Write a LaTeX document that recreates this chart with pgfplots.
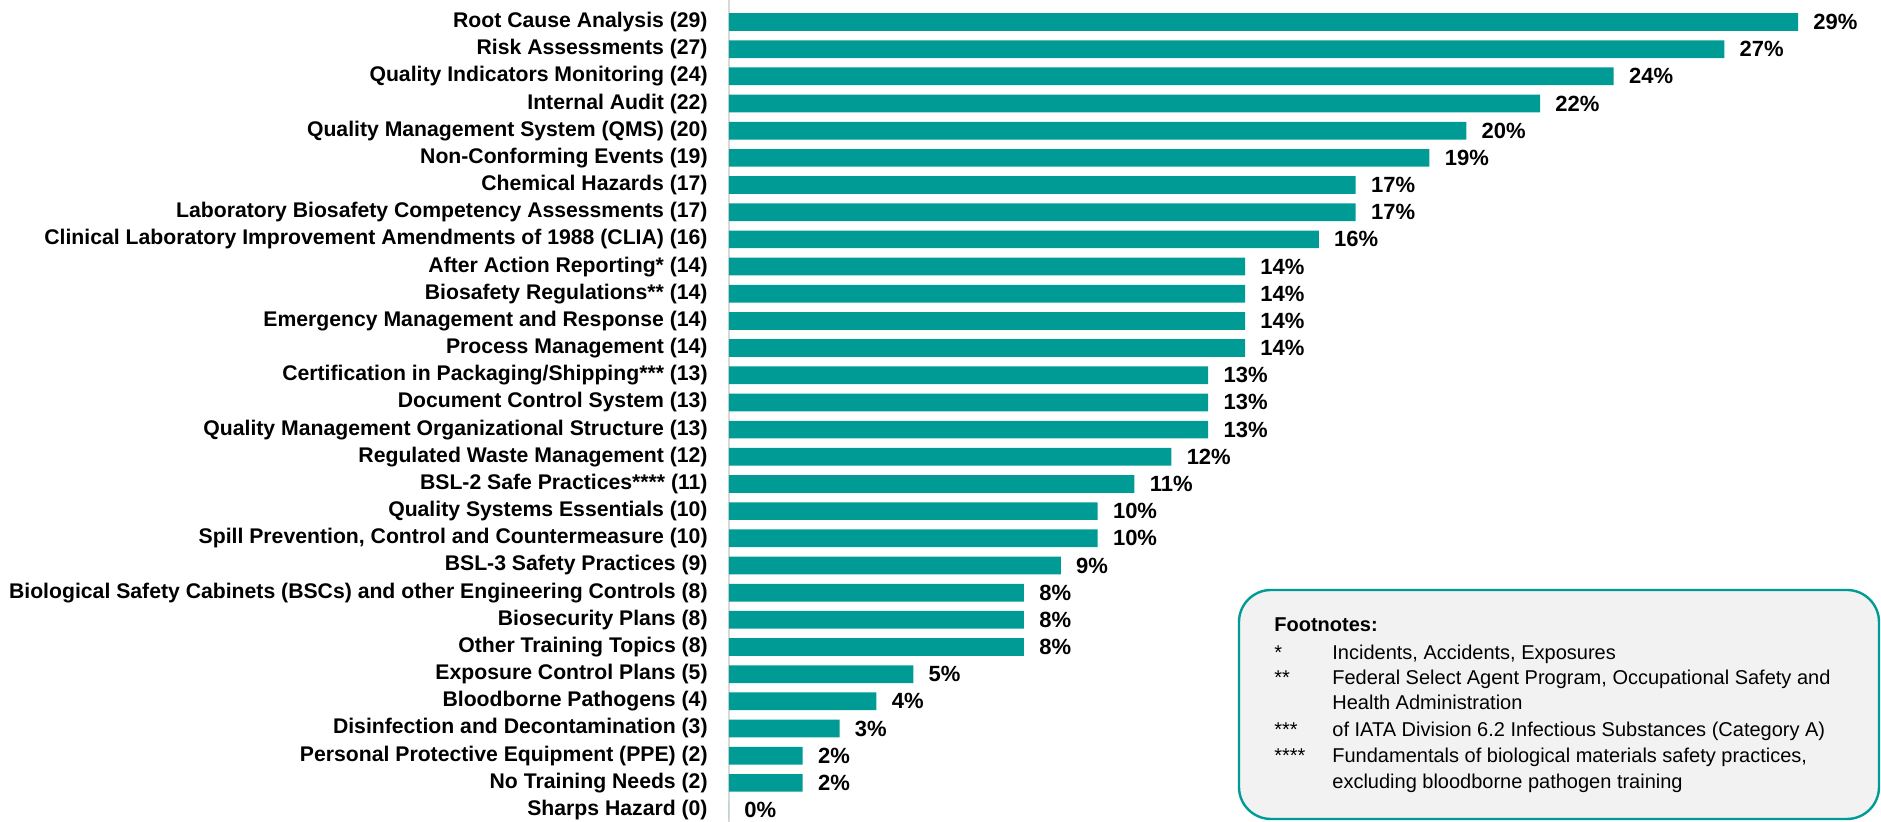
\documentclass[border=0pt]{standalone}
\usepackage{pgfplots}
\pgfplotsset{compat=1.18}
\usepackage{pgfplotstable}
\usepackage{fontspec}
\setmainfont{Liberation Sans}
\definecolor{teal1}{RGB}{0,155,149}
\definecolor{axgray}{RGB}{217,217,217}
\definecolor{boxfill}{RGB}{242,242,242}
\pgfplotstableread{
idx val
0 29
1 27
2 24
3 22
4 20
5 19
6 17
7 17
8 16
9 14
10 14
11 14
12 14
13 13
14 13
15 13
16 12
17 11
18 10
19 10
20 9
21 8
22 8
23 8
24 5
25 4
26 3
27 2
28 2
29 0
}\datatable
\begin{document}
\begin{tikzpicture}
\begin{axis}[
  scale only axis,
  width=576pt, height=411pt,
  xmin=0, xmax=31.25,
  ymin=-0.81, ymax=29.44,
  y dir=reverse,
  axis x line=none,
  axis y line*=left,
  y axis line style={draw=axgray, line width=1pt, -},
  xbar, bar width=8.85pt,
  ytick={0,...,29},
  major tick length=0pt,
  /pgf/number format/assume math mode=true,
  yticklabels={Root Cause Analysis (29),Risk Assessments (27),Quality Indicators Monitoring (24),Internal Audit (22),Quality Management System (QMS) (20),Non-Conforming Events (19),Chemical Hazards (17),Laboratory Biosafety Competency Assessments (17),Clinical Laboratory Improvement Amendments of 1988 (CLIA) (16),After Action Reporting* (14),Biosafety Regulations** (14),Emergency Management and Response (14),Process Management (14),Certification in Packaging/Shipping*** (13),Document Control System (13),Quality Management Organizational Structure (13),Regulated Waste Management (12),BSL-2 Safe Practices**** (11),Quality Systems Essentials (10),{Spill Prevention, Control and Countermeasure (10)},BSL-3 Safety Practices (9),Biological Safety Cabinets (BSCs) and other Engineering Controls (8),Biosecurity Plans (8),Other Training Topics (8),Exposure Control Plans (5),Bloodborne Pathogens (4),Disinfection and Decontamination (3),Personal Protective Equipment (PPE) (2),No Training Needs (2),Sharps Hazard (0)},
  yticklabel style={font=\fontsize{10.6}{12}\selectfont\bfseries, inner sep=0pt, xshift=-10.5pt, anchor=east},
  point meta=x,
  nodes near coords={\pgfmathprintnumber{\pgfplotspointmeta}\%},
  every node near coord/.append style={font=\fontsize{11}{12}\selectfont\bfseries, anchor=west, inner sep=0pt, xshift=7.5pt},
]
\addplot[fill=teal1, draw=none] table[x=val, y=idx] {\datatable};
\end{axis}
\draw[teal1, line width=1.2pt, fill=boxfill, rounded corners=16pt] (255pt,1.5pt) rectangle (575pt,116pt);
\begin{scope}[every node/.style={font=\fontsize{10}{12}\selectfont, inner sep=0pt, anchor=mid west}]
\node at (272.5pt,98pt) {\bfseries Footnotes:};
\node at (272.5pt,84pt) {*};
\node at (301.5pt,84pt) {Incidents, Accidents, Exposures};
\node at (272.5pt,71.5pt) {**};
\node at (301.5pt,71.5pt) {Federal Select Agent Program, Occupational Safety and};
\node at (301.5pt,59pt) {Health Administration};
\node at (272.5pt,45.5pt) {***};
\node at (301.5pt,45.5pt) {of IATA Division 6.2 Infectious Substances (Category A)};
\node at (272.5pt,32.5pt) {****};
\node at (301.5pt,32.5pt) {Fundamentals of biological materials safety practices,};
\node at (301.5pt,19.5pt) {excluding bloodborne pathogen training};
\end{scope}
\pgfresetboundingbox
\path[use as bounding box] (-364.5pt,0pt) rectangle (576pt,411pt);
\end{tikzpicture}
\end{document}
